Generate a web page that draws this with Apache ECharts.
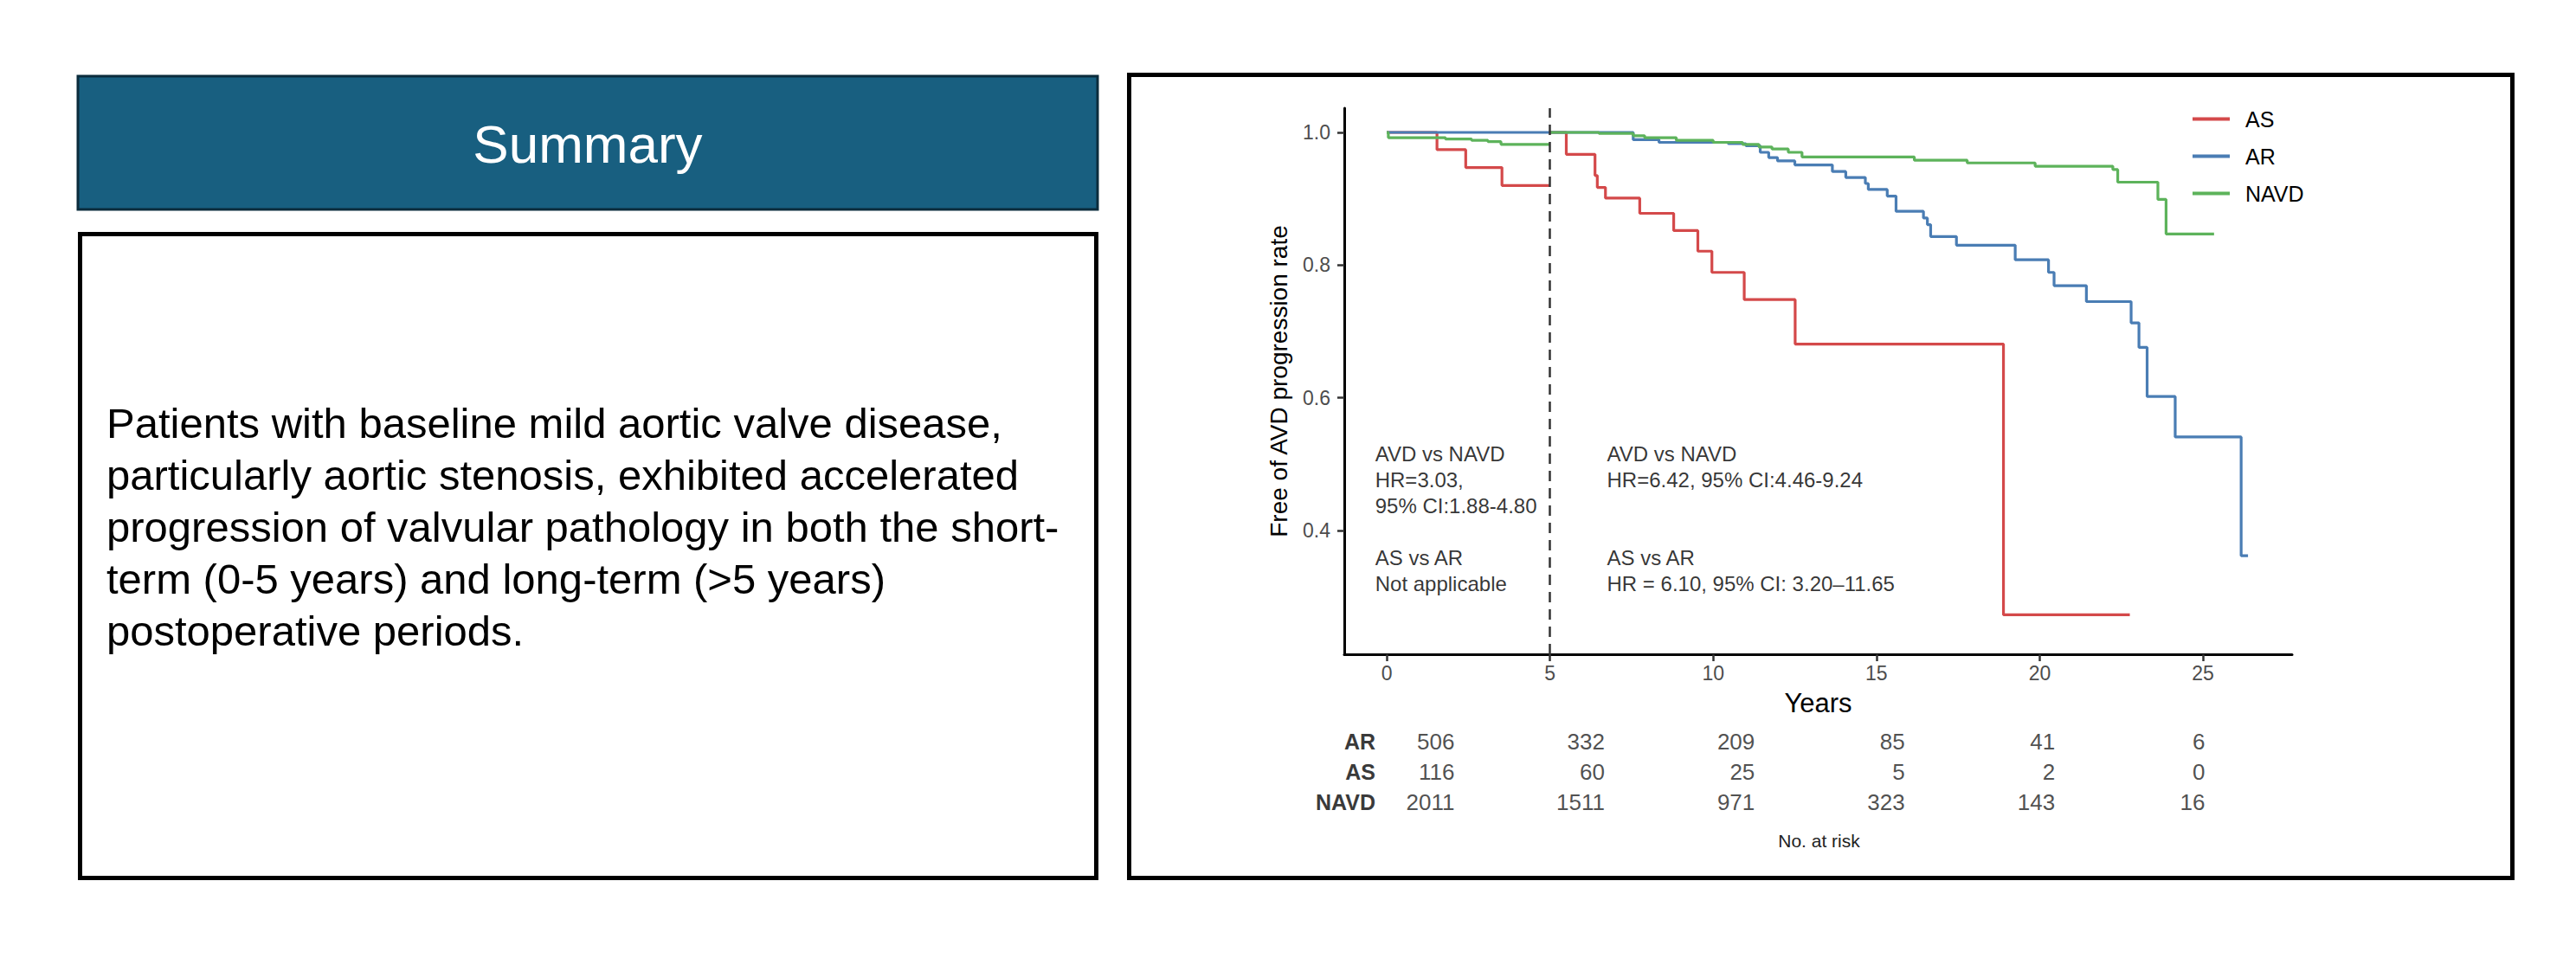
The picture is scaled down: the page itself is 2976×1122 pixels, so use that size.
<!DOCTYPE html>
<html>
<head>
<meta charset="utf-8">
<title>Free of AVD progression</title>
<script src="https://cdn.jsdelivr.net/npm/echarts@6/dist/echarts.min.js"></script>
<style>
  html, body { margin: 0; padding: 0; background: #fff; }
  #main { width: 2976px; height: 1122px; }
</style>
</head>
<body>
<div id="main"></div>
<script>
// KM steps: [years, free of progression]
// landmark analysis, so every group restarts at 1.0 at year 5
const asEarly = [[0, 1.0], [1.54, 0.974], [2.42, 0.947], [3.53, 0.920], [5, 0.920]];
const arEarly = [[0, 1.0], [5, 1.0]];
const navdEarly = [[0, 1.0], [0.05, 0.992], [1.8, 0.990], [2.6, 0.988], [3.1, 0.986], [3.5, 0.982], [5, 0.982]];

const asLate = [[5, 1.0], [5.5, 0.967], [6.38, 0.935], [6.45, 0.917], [6.7, 0.901], [7.75, 0.878],
  [8.79, 0.852], [9.53, 0.821], [9.96, 0.789], [10.95, 0.748], [12.51, 0.681], [18.89, 0.273], [22.76, 0.273]];
const arLate = [[5, 1.0], [7.55, 0.989], [8.34, 0.985], [10.46, 0.983], [11.0, 0.980], [11.44, 0.970],
  [11.7, 0.962], [11.97, 0.957], [12.5, 0.951], [13.65, 0.941], [14.06, 0.932], [14.66, 0.923],
  [14.75, 0.914], [15.33, 0.904], [15.6, 0.881], [16.44, 0.871], [16.56, 0.861], [16.66, 0.843],
  [17.45, 0.830], [19.25, 0.808], [20.27, 0.789], [20.44, 0.769], [21.43, 0.745], [22.8, 0.713],
  [23.04, 0.676], [23.29, 0.602], [24.15, 0.541], [26.17, 0.362], [26.38, 0.362]];
const navdLate = [[5, 1.0], [6.5, 0.9985], [7.55, 0.995], [7.9, 0.992], [8.87, 0.988], [10.0, 0.985],
  [10.9, 0.982], [11.4, 0.978], [11.8, 0.975], [12.3, 0.970], [12.72, 0.963], [16.16, 0.958],
  [17.78, 0.954], [19.86, 0.949], [22.24, 0.944], [22.39, 0.925], [23.62, 0.899], [23.87, 0.847], [25.34, 0.847]];

const groups = ['AS', 'AR', 'NAVD'];
const groupColors = { AS: '#d4494a', AR: '#4a7db4', NAVD: '#5db35b' };

const xTicks = [0, 5, 10, 15, 20, 25];
const yTicks = [0.4, 0.6, 0.8, 1.0];
const landmarkYear = 5;

// number at risk table
const riskRows = ['AR', 'AS', 'NAVD'];
const riskTimes = [0, 5, 10, 15, 20, 25];
const riskAR = [506, 332, 209, 85, 41, 6];
const riskAS = [116, 60, 25, 5, 2, 0];
const riskNAVD = [2011, 1511, 971, 323, 143, 16];

const noteShortTerm = ['AVD vs NAVD', 'HR=3.03,', '95% CI:1.88-4.80', '', 'AS vs AR', 'Not applicable'];
const noteLongTerm = ['AVD vs NAVD', 'HR=6.42, 95% CI:4.46-9.24', '', '', 'AS vs AR', 'HR = 6.10, 95% CI: 3.20\u201311.65'];

const summaryTitle = 'Summary';
const summaryLines = [
  'Patients with baseline mild aortic valve disease,',
  'particularly aortic stenosis, exhibited accelerated',
  'progression of valvular pathology in both the short-',
  'term (0-5 years) and long-term (>5 years)',
  'postoperative periods.'
];

const FONT = '"Liberation Sans", Arial, Helvetica, sans-serif';

const kmSeries = (name, data) => ({
  name,
  type: 'line',
  xAxisIndex: 0,
  yAxisIndex: 0,
  data,
  step: 'end',
  symbol: 'none',
  silent: true,
  lineStyle: { color: groupColors[name], width: 3.2 },
  itemStyle: { color: groupColors[name] },
});

const riskByRow = { AR: riskAR, AS: riskAS, NAVD: riskNAVD };
const riskSeries = riskRows.map((row) => ({
  type: 'scatter',
  xAxisIndex: 1,
  yAxisIndex: 1,
  symbolSize: 1,
  silent: true,
  itemStyle: { color: 'transparent' },
  data: riskByRow[row].map((n, i) => [i, row, n]),
  label: {
    show: true,
    position: 'left',
    distance: 0,
    formatter: (p) => String(p.value[2]),
    fontSize: 26,
    fontFamily: FONT,
    color: '#222',
  },
}));

const earlySeries = kmSeries('AS', asEarly);
earlySeries.markLine = {
  silent: true,
  symbol: ['none', 'none'],
  label: { show: false },
  lineStyle: { color: '#333', width: 2.5, type: [12, 8] },
  data: [{ xAxis: landmarkYear }],
};

const option = {
  animation: false,
  backgroundColor: '#fff',
  textStyle: { fontFamily: FONT },
  legend: {
    data: groups,
    orient: 'vertical',
    left: 2528,
    top: 120,
    icon: 'rect',
    itemWidth: 43,
    itemHeight: 4,
    itemGap: 18,
    selectedMode: false,
    textStyle: { fontSize: 25, color: '#000', fontFamily: FONT, padding: [0, 0, 0, 13] },
  },
  grid: [
    { left: 1553, top: 125, width: 1095, height: 631 },
    { left: 1681, top: 839.5, width: 867, height: 105 },
  ],
  xAxis: [
    {
      type: 'value',
      gridIndex: 0,
      min: -1.3,
      max: 27.73,
      name: 'Years',
      nameLocation: 'middle',
      nameGap: 41,
      nameTextStyle: { fontSize: 31, color: '#000', fontFamily: FONT },
      splitLine: { show: false },
      axisLine: { onZero: false, lineStyle: { color: '#000', width: 3 } },
      axisTick: { customValues: xTicks, length: 8, lineStyle: { color: '#333', width: 2.5 } },
      axisLabel: { customValues: xTicks, margin: 10, fontSize: 23, color: '#4d4d4d', fontFamily: FONT },
    },
    {
      type: 'value',
      gridIndex: 1,
      min: 0,
      max: riskTimes.length - 1,
      name: 'No. at risk',
      nameLocation: 'middle',
      nameGap: 16,
      nameTextStyle: { fontSize: 21, color: '#222', fontFamily: FONT, padding: [0, 26, 0, 0] },
      splitLine: { show: false },
      axisLine: { show: false },
      axisTick: { show: false },
      axisLabel: { show: false },
    },
  ],
  yAxis: [
    {
      type: 'value',
      gridIndex: 0,
      min: 0.2135,
      max: 1.0365,
      name: 'Free of AVD progression rate',
      nameLocation: 'middle',
      nameRotate: 90,
      nameGap: 62,
      nameTextStyle: { fontSize: 28, color: '#000', fontFamily: FONT },
      splitLine: { show: false },
      axisLine: { onZero: false, lineStyle: { color: '#000', width: 3 } },
      axisTick: { customValues: yTicks, length: 8, lineStyle: { color: '#333', width: 2.5 } },
      axisLabel: {
        customValues: yTicks,
        margin: 16,
        fontSize: 23,
        color: '#4d4d4d',
        fontFamily: FONT,
        formatter: (v) => v.toFixed(1),
      },
    },
    {
      type: 'category',
      gridIndex: 1,
      data: riskRows,
      inverse: true,
      axisLine: { show: false },
      axisTick: { show: false },
      splitLine: { show: false },
      axisLabel: { margin: 92, fontSize: 25, fontWeight: 'bold', color: '#3a3a3a', fontFamily: FONT },
    },
  ],
  series: [
    earlySeries,
    kmSeries('AR', arEarly),
    kmSeries('NAVD', navdEarly),
    kmSeries('AS', asLate),
    kmSeries('AR', arLate),
    kmSeries('NAVD', navdLate),
    {
      // hazard ratio notes, anchored in data units
      type: 'scatter',
      xAxisIndex: 0,
      yAxisIndex: 0,
      symbolSize: 1,
      silent: true,
      itemStyle: { color: 'transparent' },
      label: {
        show: true,
        position: [0, 0],
        align: 'left',
        verticalAlign: 'top',
        fontSize: 24,
        lineHeight: 30,
        color: '#000',
        fontFamily: FONT,
      },
      data: [
        { value: [-0.34, 0.535], label: { formatter: noteShortTerm.join('\n') } },
        { value: [6.76, 0.535], label: { formatter: noteLongTerm.join('\n') } },
      ],
    },
    ...riskSeries,
  ],
  graphic: [
    {
      type: 'rect',
      shape: { x: 90, y: 88, width: 1178, height: 154 },
      style: { fill: '#185f80', stroke: '#0b2c3c', lineWidth: 3 },
    },
    {
      type: 'text',
      style: {
        text: summaryTitle,
        x: 679,
        y: 166,
        textAlign: 'center',
        textVerticalAlign: 'middle',
        fill: '#fff',
        font: '62px ' + FONT,
      },
    },
    {
      type: 'rect',
      shape: { x: 92.5, y: 270.5, width: 1174, height: 744 },
      style: { fill: '#fff', stroke: '#000', lineWidth: 5 },
    },
    ...summaryLines.map((line, i) => ({
      type: 'text',
      style: {
        text: line,
        x: 123,
        y: 489 + i * 60,
        textAlign: 'left',
        textVerticalAlign: 'middle',
        fill: '#000',
        font: '49px ' + FONT,
      },
    })),
    {
      type: 'rect',
      shape: { x: 1304.5, y: 86.5, width: 1598, height: 928 },
      style: { fill: 'none', stroke: '#000', lineWidth: 5 },
    },
  ],
};

const chart = echarts.init(document.getElementById('main'), null, { renderer: 'svg' });
chart.setOption(option);
</script>
</body>
</html>
